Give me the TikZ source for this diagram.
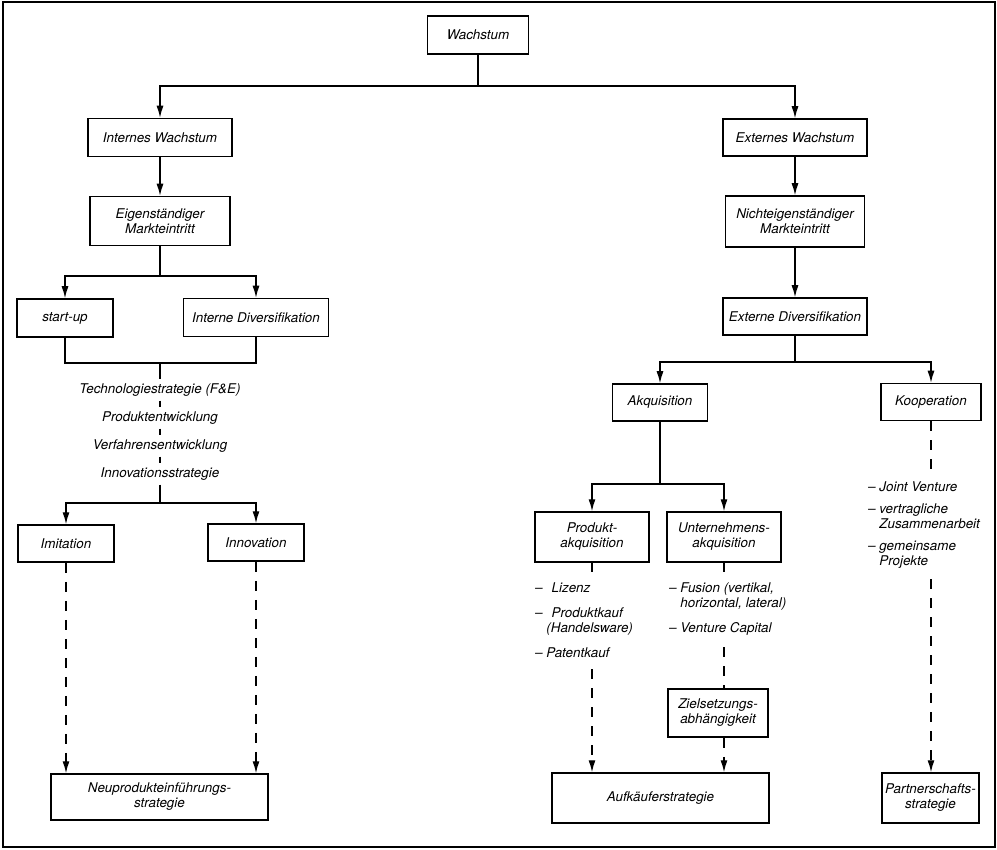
\documentclass[tikz,border=0pt]{standalone}
\usepackage{fontspec}
\setmainfont{TeX Gyre Heros}
\usetikzlibrary{arrows.meta}

\begin{document}
\begin{tikzpicture}[
        x=1pt, y=-1pt,
        font=\fontsize{13.4}{15}\selectfont\itshape,
        box/.style={draw, line width=1.5pt, align=center, inner sep=0pt},
        chaintext/.style={inner sep=0pt, minimum height=21pt, text height=9.5pt, text depth=3pt},
        liste/.style={align=left, inner xsep=0pt, inner ysep=11pt, anchor=north west},
        conn/.style={line width=1.3pt},
        arr/.style={conn, -{Latex[length=12pt,width=7pt]}},
        dline/.style={conn, dash pattern=on 10pt off 9pt}
      ]
      \useasboundingbox (0,0) rectangle (997,850);
      \draw[line width=2pt] (3,2.5) rectangle (994.5,847);

      \node[box, minimum width=101pt, minimum height=38pt] (wachstum) at (478,35) {Wachstum};
      \node[box, minimum width=144pt, minimum height=38pt] (intern) at (160,137.5) {Internes Wachstum};
      \node[box, minimum width=144pt, minimum height=37pt] (extern) at (795,137.5) {Externes Wachstum};
      \node[box, minimum width=140pt, minimum height=49pt] (eigen) at (160,221) {Eigenständiger\\Markteintritt};
      \node[box, minimum width=139pt, minimum height=51pt] (nichteigen) at (795,221.5) {Nichteigenständiger\\Markteintritt};
      \node[box, minimum width=96pt, minimum height=38pt] (startup) at (65,318) {start-up};
      \node[box, minimum width=145pt, minimum height=38pt] (interndiv) at (256,317.5) {Interne Diversifikation};
      \node[box, minimum width=144pt, minimum height=37pt] (externdiv) at (795,316.5) {Externe Diversifikation};

      \node[chaintext] (tech) at (160,390) {Technologiestrategie (F\&E)};
      \node[chaintext] (produktentw) at (160,418) {Produktentwicklung};
      \node[chaintext] (verfahren) at (160,446) {Verfahrensentwicklung};
      \node[chaintext] (innovstrat) at (160,474) {Innovationsstrategie};

      \node[box, minimum width=96pt, minimum height=37pt] (imitation) at (66,543.5) {Imitation};
      \node[box, minimum width=96pt, minimum height=37pt] (innovation) at (256,542.5) {Innovation};
      \node[box, minimum width=217pt, minimum height=46pt] (neuprodukt) at (159.5,797) {Neuprodukteinführungs-\\strategie};

      \node[box, minimum width=95pt, minimum height=37pt] (akquisition) at (660,402.5) {Akquisition};
      \node[box, minimum width=100pt, minimum height=37pt] (kooperation) at (931,402) {Kooperation};
      \node[box, minimum width=114pt, minimum height=50pt] (produkt) at (592,537) {Produkt-\\akquisition};
      \node[box, minimum width=114pt, minimum height=50pt] (unternehmen) at (724,537) {Unternehmens-\\akquisition};

      \node[liste] (plist) at (535,572) {–\hspace{9pt}Lizenz\\[10pt]–\hspace{9pt}Produktkauf\\\hphantom{–\ }(Handelsware)\\[10pt]– Patentkauf};
      \node[liste] (ulist) at (669,572) {– Fusion (vertikal,\\\hphantom{–\ }horizontal, lateral)\\[10pt]– Venture Capital};
      \node[liste, inner ysep=10pt] (klist) at (868,472) {– Joint Venture\\[7pt]– vertragliche\\\hphantom{–\ }Zusammenarbeit\\[7pt]– gemeinsame\\\hphantom{–\ }Projekte};

      \node[box, minimum width=100pt, minimum height=48pt] (ziel) at (718,713) {Zielsetzungs-\\abhängigkeit};
      \node[box, minimum width=217pt, minimum height=50pt] (aufkaeufer) at (660.5,798) {Aufkäuferstrategie};
      \node[box, minimum width=97pt, minimum height=50pt] (partner) at (930.5,798) {Partnerschafts-\\strategie};

      \coordinate (j1) at (478,86);
      \coordinate (j2) at (160,276);
      \coordinate (j3) at (160,363);
      \coordinate (j4) at (160,503);
      \coordinate (j5) at (795,362);
      \coordinate (j6) at (660,484);

      \draw[conn] (wachstum) -- (j1);
      \draw[arr] (j1) -| (intern);
      \draw[arr] (j1) -| (extern);
      \draw[arr] (intern) -- (eigen);
      \draw[conn] (eigen) -- (j2);
      \draw[arr] (j2) -| (startup);
      \draw[arr] (j2) -| (interndiv);
      \draw[conn] (startup) |- (j3) -| (interndiv);
      \draw[conn] (j3) -- (tech);
      \draw[conn] (tech) -- (produktentw);
      \draw[conn] (produktentw) -- (verfahren);
      \draw[conn] (verfahren) -- (innovstrat);
      \draw[conn] (innovstrat) -- (j4);
      \draw[arr] (j4) -| (imitation);
      \draw[arr] (j4) -| (innovation);
      \draw[arr, dline] (imitation.south) -- (imitation.south |- neuprodukt.north);
      \draw[arr, dline] (innovation.south) -- (innovation.south |- neuprodukt.north);

      \draw[arr] (extern) -- (nichteigen);
      \draw[arr] (nichteigen) -- (externdiv);
      \draw[conn] (externdiv) -- (j5);
      \draw[arr] (j5) -| (akquisition);
      \draw[arr] (j5) -| (kooperation);
      \draw[conn] (akquisition) -- (j6);
      \draw[arr] (j6) -| (produkt);
      \draw[arr] (j6) -| (unternehmen);
      \draw[conn] (produkt.south) -- (produkt.south |- plist.north);
      \draw[arr, dline] (produkt.south |- plist.south) -- (produkt.south |- aufkaeufer.north);
      \draw[conn] (unternehmen.south) -- (unternehmen.south |- ulist.north);
      \draw[dline] (unternehmen.south |- ulist.south) -- (unternehmen.south |- ziel.north);
      \draw[arr, dline] (unternehmen.south |- ziel.south) -- (unternehmen.south |- aufkaeufer.north);
      \draw[dline] (kooperation.south) -- (kooperation.south |- klist.north);
      \draw[arr, dline] (kooperation.south |- klist.south) -- (kooperation.south |- partner.north);
\end{tikzpicture}
\end{document}
